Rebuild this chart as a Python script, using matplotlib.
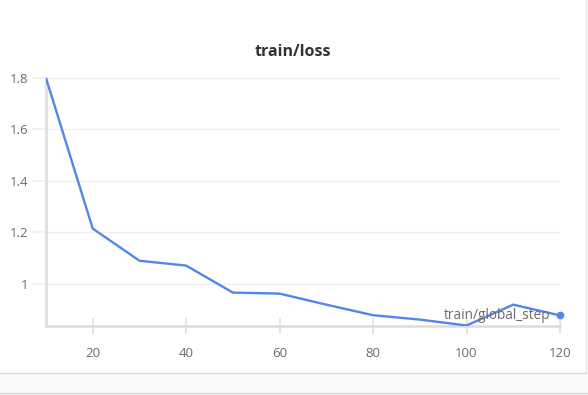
import matplotlib
matplotlib.use("Agg")
import matplotlib.pyplot as plt
from matplotlib.patches import Rectangle

steps = [10, 20, 30, 40, 50, 60, 70, 80, 90, 100, 110, 120]
loss = [1.80, 1.214, 1.089, 1.070, 0.965, 0.961, 0.918, 0.877, 0.860, 0.837, 0.918, 0.876]
xticks = [20, 40, 60, 80, 100, 120]
yticks = [1.0, 1.2, 1.4, 1.6, 1.8]
yticklabels = ["1", "1.2", "1.4", "1.6", "1.8"]

plt.rcParams['font.family'] = ['Open Sans', 'DejaVu Sans']

W, H = 588, 395
fig = plt.figure(figsize=(W / 100, H / 100), dpi=100)
fig.patch.set_facecolor('white')

# panel background / borders
fig.add_artist(Rectangle((0, 0), 1, 1 - 373 / H, transform=fig.transFigure,
                         facecolor='#fafafa', edgecolor='none', zorder=0))
fig.add_artist(plt.Line2D([0, 586 / W], [1 - 373 / H, 1 - 373 / H], transform=fig.transFigure,
                          color='#d8d8d8', lw=1.0))
fig.add_artist(plt.Line2D([0, 1], [1 - 393 / H, 1 - 393 / H], transform=fig.transFigure,
                          color='#d8d8d8', lw=1.0))
fig.add_artist(plt.Line2D([586 / W, 586 / W], [1 - 373 / H, 1], transform=fig.transFigure,
                          color='#e4e4e4', lw=1.0))

left, right, top, bottom = 46, 560, 78, 326
ax = fig.add_axes([left / W, 1 - bottom / H, (right - left) / W, (bottom - top) / H])
ax.set_facecolor('none')

ax.plot(steps, loss, color='#5087e8', lw=1.7, zorder=3)
ax.plot([steps[-1]], [loss[-1]], 'o', color='#5087e8', ms=4.5, zorder=4, clip_on=False)

ax.set_xlim(10, 120)
ax.set_ylim(0.835, 1.8)
ax.set_xticks(xticks)
ax.set_xticklabels([str(t) for t in xticks])
ax.set_yticks(yticks)
ax.set_yticklabels(yticklabels)

ax.grid(axis='y', color='#f0f0f0', lw=1.0)
for s in ['top', 'right']:
    ax.spines[s].set_visible(False)
for s in ['left', 'bottom']:
    ax.spines[s].set_color('#dcdcdc')
    ax.spines[s].set_linewidth(1.8)

ax.tick_params(axis='x', direction='inout', length=12, width=1.2, color='#e0e0e0',
               labelsize=9.5, labelcolor='#6b6b6b', pad=9)
ax.tick_params(axis='y', direction='out', length=10, width=1.2, color='#f0f0f0',
               labelsize=9.5, labelcolor='#6b6b6b', pad=3)

ax.text(118, 0.876, 'train/global_step', ha='right', va='center', fontsize=9.8,
        color='#6b6b6b', zorder=5)

fig.text(293 / W, 1 - 52 / H, 'train/loss', ha='center', va='center', fontsize=11.5,
         fontweight='bold', color='#333333')

fig.savefig('out.png', dpi=100)
